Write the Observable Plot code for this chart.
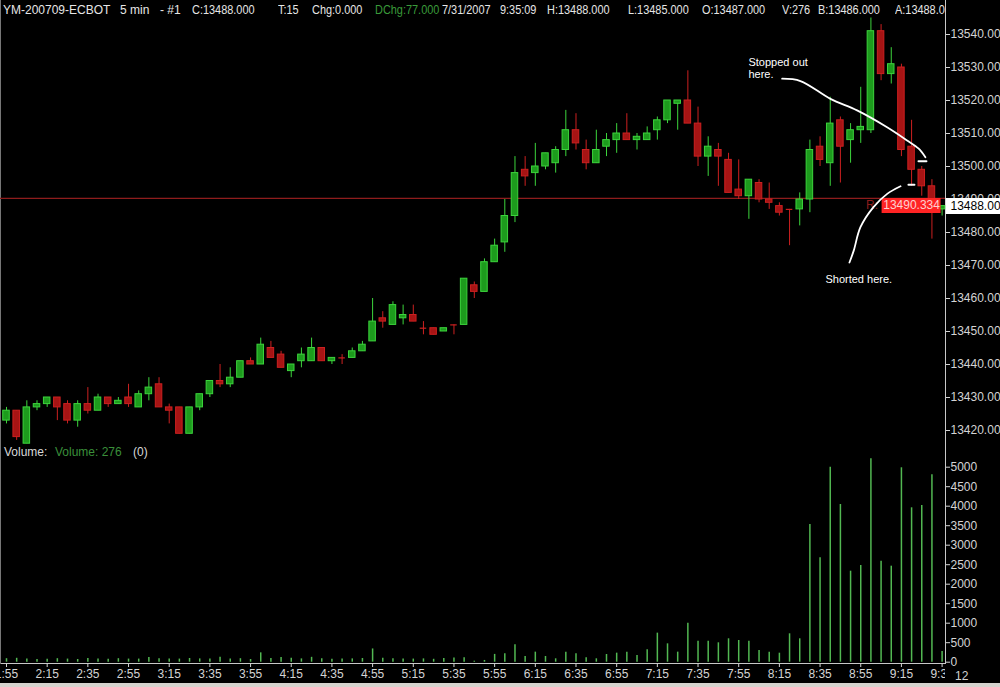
<!DOCTYPE html>
<html><head><meta charset="utf-8">
<script src="https://cdn.jsdelivr.net/npm/d3@7"></script>
<script src="https://cdn.jsdelivr.net/npm/@observablehq/plot@0.6"></script>
<style>
html,body{margin:0;padding:0;background:#000;}
#wrap{position:relative;width:1000px;height:687px;background:#000;overflow:hidden;font-family:"Liberation Sans",Arial,sans-serif;}
#wrap > svg{position:absolute;left:0;}
#header{position:absolute;left:0;top:0;width:945px;height:20px;overflow:hidden;font-size:12px;color:#e6e6e6;z-index:5;}
#header span{position:absolute;top:3px;white-space:pre;line-height:14px;}
#header span.n{transform:scaleX(0.91);transform-origin:0 0;}
#vlabel{position:absolute;left:0;top:445px;width:300px;height:14px;font-size:12px;z-index:5;}
#vlabel span{position:absolute;top:0;white-space:pre;line-height:14px;}
#extra12{position:absolute;left:955px;top:669px;font-size:12px;color:#d0d0d0;line-height:14px;z-index:5;}
#bottombar{position:absolute;left:0;top:683px;width:1000px;height:4px;background:#d6d3ce;z-index:6;}
</style>
</head><body>
<div id="wrap">
  <div id="header">
    <span style="left:3px">YM-200709-ECBOT</span>
    <span style="left:120px">5 min</span>
    <span style="left:160px">- #1</span>
    <span class="n" style="left:192px">C:13488.000</span>
    <span class="n" style="left:278px">T:15</span>
    <span class="n" style="left:312px">Chg:0.000</span>
    <span class="n" style="left:375px;color:#3a9a3a">DChg:77.000</span>
    <span class="n" style="left:442px">7/31/2007</span>
    <span class="n" style="left:500px">9:35:09</span>
    <span class="n" style="left:547px">H:13488.000</span>
    <span class="n" style="left:628px">L:13485.000</span>
    <span class="n" style="left:702px">O:13487.000</span>
    <span class="n" style="left:782px">V:276</span>
    <span class="n" style="left:818px">B:13486.000</span>
    <span class="n" style="left:895px">A:13488.000</span>
  </div>
  <div id="vlabel">
    <span style="left:4px;color:#d8d8d8">Volume:</span>
    <span style="left:55px;color:#3a8f3a">Volume: 276</span>
    <span style="left:133px;color:#d8d8d8">(0)</span>
  </div>
  <div id="extra12">12</div>
  <div id="bottombar"></div>
</div>
<script>
// ---- data ----
const opens  = [13423,13426,13416,13427,13428,13430,13428,13423,13428,13426,13430,13428,13430,13427,13431,13434,13427,13427,13419,13427,13431,13435,13434,13436,13441,13440,13445,13443,13438,13441,13441,13445,13441,13442,13442,13444,13447,13454,13452,13454,13455,13451,13451,13450,13452,13452,13464,13462,13471,13477,13485,13499,13498,13500,13501,13505,13511,13505,13501,13506,13508,13510,13508,13508,13511,13514,13519,13520,13513,13503,13505,13502,13493,13491,13495,13490,13488,13487,13487,13490,13506,13501,13514,13508,13511,13511,13541,13528,13530,13506,13499,13494,13487];
const highs  = [13427,13426,13429,13429,13430,13430,13429,13429,13433,13431,13430,13430,13434,13432,13436,13436,13428,13427,13427,13431,13435,13440,13439,13441,13442,13448,13447,13444,13440,13445,13448,13445,13442,13443,13445,13447,13460,13456,13459,13458,13458,13453,13451,13451,13452,13466,13465,13472,13478,13490,13503,13503,13507,13504,13506,13517,13516,13508,13511,13510,13513,13516,13510,13512,13515,13520,13520,13529,13518,13509,13507,13504,13502,13496,13496,13495,13489,13487,13492,13508,13509,13521,13515,13513,13524,13545,13543,13536,13531,13514,13500,13496,13488];
const lows   = [13422,13417,13416,13426,13427,13423,13422,13421,13425,13426,13427,13428,13427,13427,13429,13427,13422,13419,13419,13426,13430,13433,13433,13436,13440,13440,13442,13439,13436,13439,13441,13441,13440,13440,13442,13444,13447,13451,13452,13452,13453,13449,13449,13450,13449,13452,13460,13462,13471,13474,13483,13494,13494,13499,13498,13503,13505,13499,13501,13503,13504,13508,13505,13508,13508,13513,13511,13513,13500,13497,13494,13492,13490,13484,13489,13487,13485,13476,13482,13486,13500,13494,13495,13501,13507,13510,13526,13525,13503,13494,13491,13478,13485];
const closes = [13426,13418,13427,13428,13430,13427,13423,13428,13426,13430,13428,13429,13428,13431,13433,13427,13426,13419,13427,13431,13435,13434,13436,13441,13440,13446,13442,13439,13440,13443,13445,13441,13442,13442,13444,13446,13453,13453,13458,13455,13453,13451,13449,13451,13452,13466,13462,13471,13476,13485,13498,13497,13500,13504,13505,13511,13507,13501,13505,13508,13510,13508,13509,13510,13514,13520,13520,13513,13503,13506,13503,13492,13491,13496,13490,13489,13486,13487,13490,13505,13502,13513,13506,13511,13512,13541,13528,13531,13505,13499,13494,13489,13488];
const volumes = [90,100,80,70,75,90,80,70,95,85,75,90,80,80,120,90,85,80,95,85,80,130,80,90,70,240,95,120,100,85,125,90,75,80,85,95,340,100,90,85,80,85,75,95,110,115,25,45,200,215,446,146,258,146,87,258,215,112,87,197,232,258,172,318,745,471,258,1000,540,540,497,600,557,540,301,256,231,728,600,3530,2677,5000,4043,2334,2480,5215,2590,2462,4985,3959,4018,4805,276];
const timeLabels = ["1:55","2:15","2:35","2:55","3:15","3:35","3:55","4:15","4:35","4:55","5:15","5:35","5:55","6:15","6:35","6:55","7:15","7:35","7:55","8:15","8:35","8:55","9:15","9:35"];
const priceTicks = [13420,13430,13440,13450,13460,13470,13480,13490,13500,13510,13520,13530,13540];
const volumeTicks = [0,500,1000,1500,2000,2500,3000,3500,4000,4500,5000];
const lastPrice = 13488;
const refPrice = 13490.334;
// annotation paths in (bar index, price)
const stoppedBars   = [76.27,78.07,81.02,83.64,86.59,88.56,89.70,90.36];
const stoppedPrices = [13526.6,13525.9,13520.5,13517.0,13511.9,13507.9,13505.4,13502.8];
const stoppedTickBars = [89.68,90.46]; const stoppedTickPrice = 13501.6;
const shortedBars   = [82.89,83.31,83.97,85.25,86.60,87.91];
const shortedPrices = [13470.9,13474.5,13481.6,13487.7,13491.7,13494.0];
const shortedTickBars = [88.69,89.28]; const shortedTickPrice = 13494.45;
const notes = [
  {text:"Stopped out\nhere.", bar:72.96, price:13533.3},
  {text:"Shorted here.", bar:80.53, price:13467.3}
];

// ---- build ----
const bars = opens.map((o,i)=>({i, open:o, high:highs[i], low:lows[i], close:closes[i]}));
const up = d => d.close > d.open;
const bodies = bars.filter(d => d.close !== d.open);
const dojis = bars.filter(d => d.close === d.open);
const volData = volumes.map((v,i)=>({i, v}));
const tickIdx = timeLabels.map((_,k)=>k*4);
const line = (bs, ps) => bs.map((b,k)=>({b, p: ps[k]}));

const GREEN_FILL="#1d9b1d", GREEN_LINE="#3cd43c", RED_FILL="#a61414", RED_LINE="#cc2020";
const xScale = {domain:[0,92], range:[6,941.6]};
const HW = 0.32;
const baseStyle = {background:"#000", color:"#d4d4d4", fontFamily:"'Liberation Sans', Arial, sans-serif", fontSize:"12px", overflow:"hidden"};

const price = Plot.plot({
  width:1000, height:450, marginLeft:0, marginRight:55, marginTop:0, marginBottom:0,
  x:{...xScale, axis:null},
  y:{domain:[13420,13540], range:[430,34], axis:null},
  style: baseStyle,
  marks:[
    Plot.frame({anchor:"right", stroke:"#c8c8c8"}),
    Plot.frame({anchor:"left", stroke:"#777"}),
    Plot.ruleY([refPrice], {stroke:"#8e1c1c", strokeWidth:1.2}),
    Plot.ruleX(bars, {x:"i", y1:"low", y2:"high", stroke:d=>up(d)?GREEN_LINE:RED_LINE, strokeWidth:1}),
    Plot.rect(bodies, {x1:d=>d.i-HW, x2:d=>d.i+HW, y1:"open", y2:"close", fill:d=>up(d)?GREEN_FILL:RED_FILL, stroke:d=>up(d)?GREEN_LINE:RED_LINE, strokeWidth:1}),
    Plot.ruleY(dojis, {y:"open", x1:d=>d.i-HW, x2:d=>d.i+HW, stroke:RED_LINE, strokeWidth:1.2}),
    Plot.axisY({anchor:"right", ticks:priceTicks, tickFormat:d=>d.toFixed(2), tickSize:4, tickPadding:1, label:null, fontSize:12}),
    // last price box
    Plot.ruleY([lastPrice], {x1:92.4, x2:99, stroke:"#fff", strokeWidth:16}),
    Plot.text([lastPrice], {y:d=>d, frameAnchor:"right", dx:5, textAnchor:"start", fill:"#000", text:d=>d.toFixed(2), fontSize:12}),
    // reference line label
    Plot.text(["R:"], {x:[86.1], y:[refPrice], dy:7, dx:-4, textAnchor:"end", fill:"#8e1c1c", fontSize:12}),
    Plot.ruleY([refPrice], {x1:86.1, x2:91.9, dy:7, stroke:"#ff2424", strokeWidth:15}),
    Plot.text([refPrice], {x:[89], y:d=>d, dy:7, text:d=>d.toFixed(3), fill:"#ffd0d0", fontSize:12}),
    // annotations
    Plot.line(line(stoppedBars, stoppedPrices), {x:"b", y:"p", curve:"catmull-rom", stroke:"#fff", strokeWidth:1.8}),
    Plot.line(stoppedTickBars.map(b=>({b, p:stoppedTickPrice})), {x:"b", y:"p", stroke:"#fff", strokeWidth:2}),
    Plot.line(line(shortedBars, shortedPrices), {x:"b", y:"p", curve:"catmull-rom", stroke:"#fff", strokeWidth:1.8}),
    Plot.line(shortedTickBars.map(b=>({b, p:shortedTickPrice})), {x:"b", y:"p", stroke:"#fff", strokeWidth:2}),
    Plot.text(notes, {x:"bar", y:"price", text:"text", textAnchor:"start", lineAnchor:"top", lineHeight:1.15, fill:"#fff", fontSize:11})
  ]
});
price.style.top = "0px";

const vol = Plot.plot({
  width:1000, height:224, marginLeft:0, marginRight:55, marginTop:0, marginBottom:11,
  x:{...xScale, axis:null},
  y:{domain:[0,5000], range:[211.7,16.7], axis:null},
  style: baseStyle,
  marks:[
    Plot.frame({anchor:"right", stroke:"#c8c8c8"}),
    Plot.frame({anchor:"bottom", stroke:"#c8c8c8"}),
    Plot.frame({anchor:"left", stroke:"#777"}),
    Plot.ruleX(volData, {x:"i", y1:0, y2:"v", stroke:"#52b852", strokeWidth:1.5}),
    Plot.axisY({anchor:"right", ticks:volumeTicks, tickFormat:d=>String(d), tickSize:4, tickPadding:1, label:null, fontSize:12})
  ]
});
vol.style.top = "450px";

const strip = Plot.plot({
  width:945, height:21, marginLeft:0, marginRight:0, marginTop:0, marginBottom:20,
  x:{...xScale, axis:null},
  style:{...baseStyle, background:"transparent"},
  marks:[
    Plot.axisX({anchor:"bottom", ticks:tickIdx, tickFormat:d=>timeLabels[tickIdx.indexOf(d)], tickSize:4, tickPadding:2, label:null, fontSize:12})
  ]
});
strip.style.top = "662px";

const wrap = document.getElementById("wrap");
wrap.insertBefore(strip, wrap.firstChild);
wrap.insertBefore(vol, wrap.firstChild);
wrap.insertBefore(price, wrap.firstChild);
</script>
</body></html>
